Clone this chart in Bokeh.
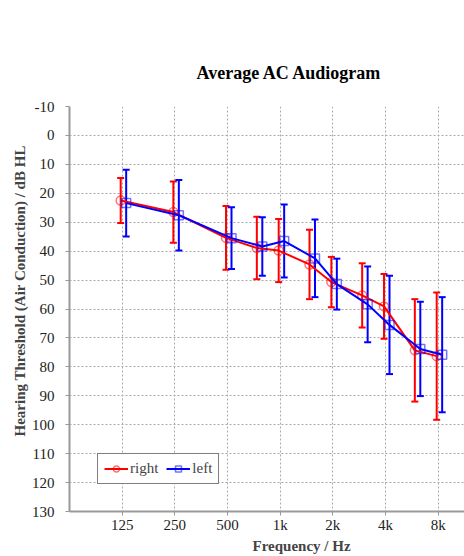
from bokeh.plotting import figure
from bokeh.models import (Range1d, FixedTicker, ColumnDataSource, Whisker, TeeHead,
                          Legend, LegendItem, Title)
from bokeh.embed import file_html
from bokeh.resources import INLINE

# ---- data ----
freqs = [125, 250, 500, 750, 1000, 1500, 2000, 3000, 4000, 6000, 8000]
right_mean = [22.5, 26.5, 35.4, 38.9, 39.8, 44.6, 50.7, 55.3, 59.1, 74.3, 76.3]
right_sd = [7.8, 10.6, 11.0, 10.8, 10.9, 12.0, 8.7, 11.1, 11.2, 17.7, 22.0]
left_mean = [23.4, 27.6, 35.5, 38.4, 36.5, 42.5, 51.4, 58.4, 65.5, 73.8, 75.8]
left_sd = [11.5, 12.2, 10.7, 10.1, 12.6, 13.4, 8.8, 13.1, 17.0, 16.3, 19.9]
tick_freqs = [125, 250, 500, 1000, 2000, 4000, 8000]
tick_labels = ["125", "250", "500", "1k", "2k", "4k", "8k"]
y_ticks = list(range(-10, 131, 10))
y_labels = [str(v) for v in y_ticks]

SERIF = "Liberation Serif"

p = figure(width=464, height=556, x_axis_type="log",
           x_range=Range1d(62.5, 62.5 * 2 ** 7.5), y_range=Range1d(130, -10),
           output_backend="svg", toolbar_location=None,
           min_border_left=69, min_border_right=0, min_border_top=106, min_border_bottom=45)
p.outline_line_color = None
p.background_fill_color = "white"

# title
p.title = Title(text="Average AC Audiogram", align="left", offset=127,
                text_font=SERIF, text_font_size="18px", text_font_style="bold",
                text_color="black", standoff=47)

# axes
xa = p.xaxis[0]
ya = p.yaxis[0]
xa.ticker = FixedTicker(ticks=tick_freqs)
xa.major_label_overrides = {f: l for f, l in zip(tick_freqs, tick_labels)}
ya.ticker = FixedTicker(ticks=y_ticks)
ya.major_label_overrides = {v: l for v, l in zip(y_ticks, y_labels)}
for ax in (xa, ya):
    ax.major_label_text_font = SERIF
    ax.major_label_text_font_size = "15px"
    ax.major_label_text_color = "#222222"
    ax.axis_line_color = "#999999"
    ax.axis_line_width = 2
    ax.major_tick_line_color = "#999999"
    ax.major_tick_out = 4
    ax.major_tick_in = 0
    ax.minor_tick_line_color = None
xa.major_label_standoff = 1
ya.major_label_standoff = 11

p.add_layout(Title(text="Hearing Threshold (Air Conduction) / dB HL", align="left",
                   offset=75, text_font=SERIF, text_font_size="15px",
                   text_font_style="bold", standoff=2), "left")
p.add_layout(Title(text="Frequency / Hz", align="left", offset=183,
                   text_font=SERIF, text_font_size="15px", text_font_style="bold",
                   standoff=0), "below")

# grid
for g in (p.xgrid, p.ygrid):
    g.grid_line_color = "#aaaaaa"
    g.grid_line_dash = "2 2"
    g.grid_line_width = 1
p.xgrid.ticker = FixedTicker(ticks=tick_freqs)
p.ygrid.ticker = FixedTicker(ticks=y_ticks)


def series(mean, sd, color, shift, marker):
    xs = [f * 2 ** shift for f in freqs]
    src = ColumnDataSource(dict(x=xs, y=mean,
                                lo=[m - s for m, s in zip(mean, sd)],
                                hi=[m + s for m, s in zip(mean, sd)]))
    w = Whisker(base="x", lower="lo", upper="hi", source=src, dimension="height",
                line_color=color, line_width=2,
                upper_head=TeeHead(size=7, line_color=color, line_width=2),
                lower_head=TeeHead(size=7, line_color=color, line_width=2))
    p.add_layout(w)
    ln = p.line("x", "y", source=src, line_color=color, line_width=2)
    sc = p.scatter("x", "y", source=src, marker=marker, size=9, fill_color=None,
                   line_color=color, line_width=1.5, line_alpha=0.55)
    return [ln, sc]


r_right = series(right_mean, right_sd, "#ff0000", -0.028, "circle")
r_left = series(left_mean, left_sd, "#0000ff", 0.076, "square")

legend = Legend(items=[LegendItem(label="right", renderers=r_right),
                       LegendItem(label="left", renderers=r_left)],
                orientation="horizontal", location=(28, 27),
                label_text_font=SERIF, label_text_font_size="15px",
                glyph_width=24, glyph_height=15, label_height=15,
                label_standoff=2, spacing=8, padding=6, margin=0,
                border_line_color="black", border_line_width=1,
                background_fill_alpha=1)
p.add_layout(legend)

open("out.html", "w").write(file_html(p, INLINE))
